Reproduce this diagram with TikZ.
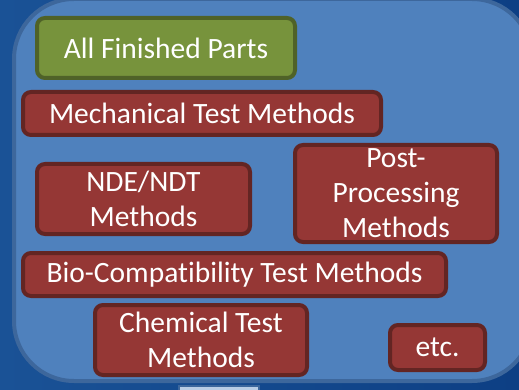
\documentclass[tikz,border=0pt]{standalone}
\usepackage{fontspec}
\setmainfont[Ligatures=NoCommon]{Carlito}
\definecolor{bgdark}{HTML}{0D3F84}
\definecolor{bglight}{HTML}{1A5296}
\definecolor{panelfill}{HTML}{4F81BD}
\definecolor{paneledge}{HTML}{3D679C}
\definecolor{greenfill}{HTML}{77933C}
\definecolor{greenedge}{HTML}{4F6228}
\definecolor{redfill}{HTML}{953735}
\definecolor{rededge}{HTML}{632523}
\definecolor{stripfill}{HTML}{B9CDE5}
\tikzset{
  boxbase/.style={rounded corners=8pt, line width=4pt, inner sep=0pt,
    text=white, align=center,
    font=\fontsize{29.5}{35}\selectfont},
  greenbox/.style={boxbase, draw=greenedge, fill=greenfill},
  redbox/.style={boxbase, draw=rededge, fill=redfill},
}
\begin{document}
\begin{tikzpicture}[x=1pt,y=-1pt]
\useasboundingbox (0,0) rectangle (519,390);
\clip (0,0) rectangle (519,390);

% Dark background
\shade[left color=bglight, right color=bgdark] (0,0) rectangle (519,390);

% Strip below the panel
\draw[paneledge, fill=stripfill, line width=1.5pt] (179,386) rectangle (259,394);

% Main panel
\draw[fill=panelfill, draw=paneledge, line width=4pt, rounded corners=60pt]
  (14,-1) rectangle (532,381);

% Boxes
\node[greenbox, minimum width=258pt, minimum height=60pt] (parts) at (166,48) {All Finished Parts};
\node[redbox, minimum width=358pt, minimum height=43pt] (mech) at (202,113.5) {Mechanical Test Methods};
\node[redbox, minimum width=213pt, minimum height=70pt] (nde) at (143.5,199) {NDE/NDT\\Methods};
\node[redbox, minimum width=202pt, minimum height=97pt] (post) at (396,193.5) {Post-\\Processing\\Methods};
\node[redbox, minimum width=423pt, minimum height=43pt] (bio) at (234.5,274.5) {Bio-Compatibility Test Methods};
\node[redbox, minimum width=212pt, minimum height=70pt] (chem) at (201,340) {Chemical Test\\Methods};
\node[redbox, minimum width=95pt, minimum height=45pt] (etc) at (437.5,347.5) {etc.};

\end{tikzpicture}
\end{document}
